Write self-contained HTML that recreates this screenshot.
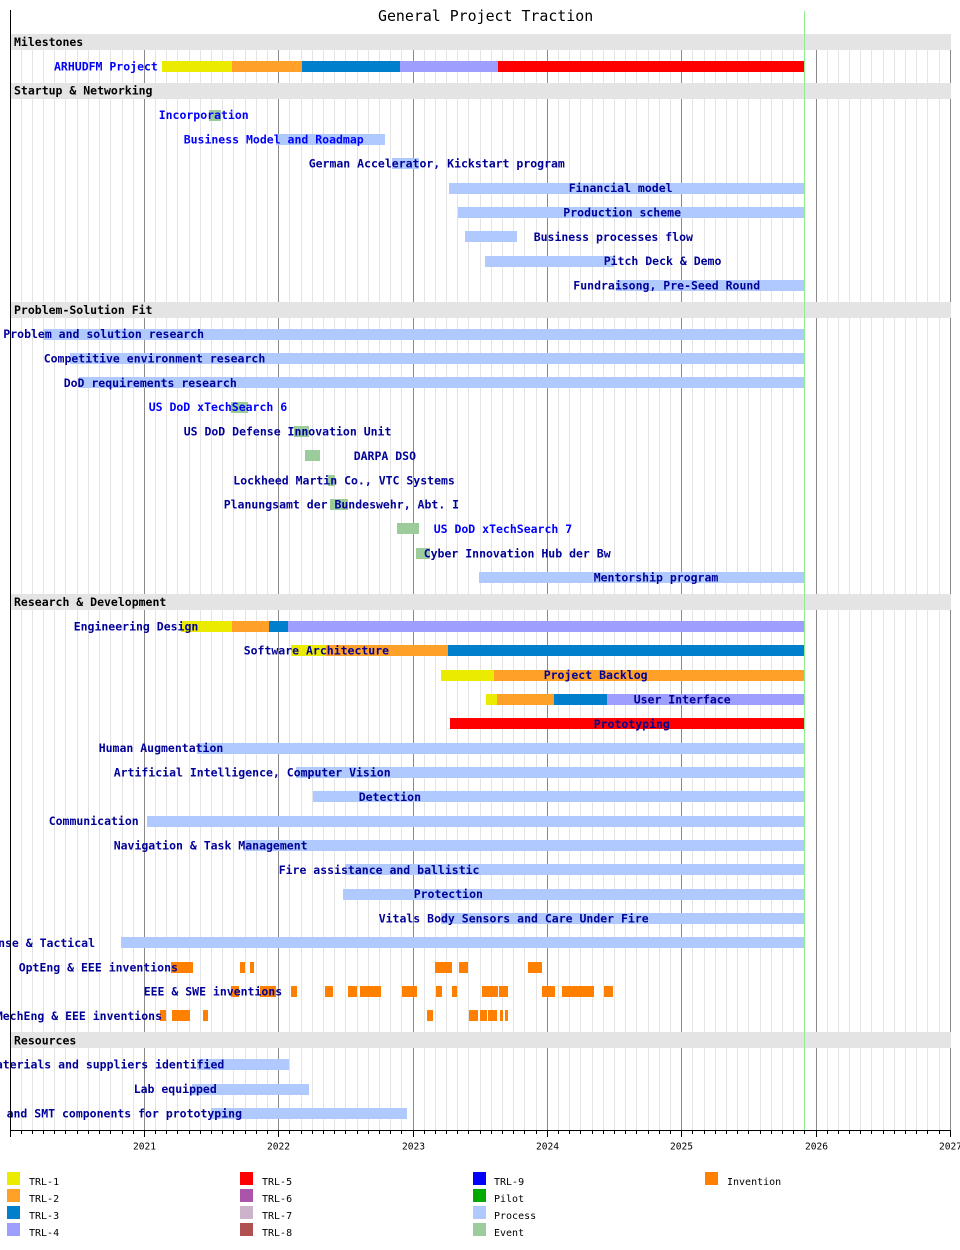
<!DOCTYPE html>
<html><head><meta charset="utf-8"><title>General Project Traction</title>
<style>
html,body{margin:0;padding:0;background:#fff;}
svg{display:block;}
.t{font-family:"DejaVu Sans Mono","Liberation Mono",monospace;font-weight:bold;font-size:11.5px;}
.b{fill:#0000ff;}
.n{fill:#000099;}
.h{fill:#000;}
.lg{font-family:"DejaVu Sans Mono","Liberation Mono",monospace;font-size:10px;fill:#000;}
.yr{font-family:"DejaVu Sans Mono","Liberation Mono",monospace;font-size:9.6px;fill:#000;}
</style></head>
<body>
<svg xmlns="http://www.w3.org/2000/svg" width="960" height="1250" viewBox="0 0 960 1250">
<rect x="0" y="0" width="960" height="1250" fill="#fff"/>
<!-- minor month grid -->
<path stroke="#e3e3e3" stroke-width="1" fill="none" d="M21.5 50V1130M32.5 50V1130M43.5 50V1130M54.5 50V1130M65.5 50V1130M77.5 50V1130M88.5 50V1130M99.5 50V1130M110.5 50V1130M122.5 50V1130M133.5 50V1130M155.5 50V1130M166.5 50V1130M177.5 50V1130M189.5 50V1130M200.5 50V1130M211.5 50V1130M222.5 50V1130M233.5 50V1130M245.5 50V1130M256.5 50V1130M267.5 50V1130M289.5 50V1130M301.5 50V1130M312.5 50V1130M323.5 50V1130M334.5 50V1130M345.5 50V1130M357.5 50V1130M368.5 50V1130M379.5 50V1130M390.5 50V1130M401.5 50V1130M424.5 50V1130M435.5 50V1130M446.5 50V1130M457.5 50V1130M468.5 50V1130M480.5 50V1130M491.5 50V1130M502.5 50V1130M513.5 50V1130M524.5 50V1130M536.5 50V1130M558.5 50V1130M569.5 50V1130M580.5 50V1130M592.5 50V1130M603.5 50V1130M614.5 50V1130M625.5 50V1130M636.5 50V1130M648.5 50V1130M659.5 50V1130M670.5 50V1130M692.5 50V1130M704.5 50V1130M715.5 50V1130M726.5 50V1130M737.5 50V1130M748.5 50V1130M760.5 50V1130M771.5 50V1130M782.5 50V1130M793.5 50V1130M804.5 50V1130M827.5 50V1130M838.5 50V1130M849.5 50V1130M860.5 50V1130M871.5 50V1130M883.5 50V1130M894.5 50V1130M905.5 50V1130M916.5 50V1130M927.5 50V1130M939.5 50V1130"/>
<!-- year lines -->
<path stroke="#8a8a8a" stroke-width="1" fill="none" d="M144.5 50V1130M278.5 50V1130M413.5 50V1130M547.5 50V1130M681.5 50V1130M816.5 50V1130M950.5 50V1130"/>

<!-- header bands -->
<g fill="#e4e4e4">
<rect x="11" y="34" width="940" height="16"/>
<rect x="11" y="83" width="940" height="16"/>
<rect x="11" y="302" width="940" height="16"/>
<rect x="11" y="594" width="940" height="16"/>
<rect x="11" y="1032" width="940" height="16"/>
</g>
<g class="t h">
<text x="14" y="46">Milestones</text>
<text x="14" y="94.6">Startup &amp; Networking</text>
<text x="14" y="313.8">Problem-Solution Fit</text>
<text x="14" y="606">Research &amp; Development</text>
<text x="14" y="1044.3">Resources</text>
</g>

<!-- bars -->
<!-- ARHUDFM Project -->
<rect x="162" y="61" width="70" height="11" fill="#ebeb00"/>
<rect x="232" y="61" width="70" height="11" fill="#ffa028"/>
<rect x="302" y="61" width="98" height="11" fill="#0080cc"/>
<rect x="400" y="61" width="98" height="11" fill="#9e9eff"/>
<rect x="498" y="61" width="306" height="11" fill="#ff0000"/>

<g fill="#9ccb9c">
<rect x="209" y="110" width="12" height="11"/>
<rect x="231" y="402" width="17" height="11"/>
<rect x="294" y="426" width="15" height="11"/>
<rect x="305" y="450" width="15" height="11"/>
<rect x="328" y="475" width="7" height="11"/>
<rect x="330" y="499" width="18" height="11"/>
<rect x="397" y="523" width="22" height="11"/>
<rect x="416" y="548" width="14" height="11"/>
</g>

<g fill="#b0caff">
<rect x="276" y="134" width="109" height="11"/>
<rect x="392" y="158" width="27" height="11"/>
<rect x="449" y="183" width="355" height="11"/>
<rect x="458" y="207" width="346" height="11"/>
<rect x="465" y="231" width="52" height="11"/>
<rect x="485" y="256" width="129" height="11"/>
<rect x="616" y="280" width="188" height="11"/>
<rect x="43" y="329" width="761" height="11"/>
<rect x="70" y="353" width="734" height="11"/>
<rect x="79" y="377" width="725" height="11"/>
<rect x="479" y="572" width="325" height="11"/>
<rect x="197" y="743" width="607" height="11"/>
<rect x="296" y="767" width="508" height="11"/>
<rect x="313" y="791" width="491" height="11"/>
<rect x="147" y="816" width="657" height="11"/>
<rect x="244" y="840" width="560" height="11"/>
<rect x="345" y="864" width="459" height="11"/>
<rect x="343" y="889" width="461" height="11"/>
<rect x="441" y="913" width="363" height="11"/>
<rect x="121" y="937" width="683" height="11"/>
<rect x="197" y="1059" width="92" height="11"/>
<rect x="192" y="1084" width="117" height="11"/>
<rect x="211" y="1108" width="196" height="11"/>
</g>

<!-- Engineering Design -->
<rect x="181" y="621" width="51" height="11" fill="#ebeb00"/>
<rect x="232" y="621" width="37" height="11" fill="#ffa028"/>
<rect x="269" y="621" width="19" height="11" fill="#0080cc"/>
<rect x="288" y="621" width="516" height="11" fill="#9e9eff"/>
<!-- Software Architecture -->
<rect x="291" y="645" width="35" height="11" fill="#ebeb00"/>
<rect x="326" y="645" width="122" height="11" fill="#ffa028"/>
<rect x="448" y="645" width="356" height="11" fill="#0080cc"/>
<!-- Project Backlog -->
<rect x="441" y="670" width="53" height="11" fill="#ebeb00"/>
<rect x="494" y="670" width="310" height="11" fill="#ffa028"/>
<!-- User Interface -->
<rect x="486" y="694" width="11" height="11" fill="#ebeb00"/>
<rect x="497" y="694" width="57" height="11" fill="#ffa028"/>
<rect x="554" y="694" width="53" height="11" fill="#0080cc"/>
<rect x="607" y="694" width="197" height="11" fill="#9e9eff"/>
<!-- Prototyping -->
<rect x="450" y="718" width="354" height="11" fill="#ff0000"/>

<!-- inventions -->
<g fill="#ff8000">
<rect x="171" y="962" width="22" height="11"/>
<rect x="240" y="962" width="5" height="11"/>
<rect x="250" y="962" width="4" height="11"/>
<rect x="435" y="962" width="17" height="11"/>
<rect x="459" y="962" width="9" height="11"/>
<rect x="528" y="962" width="14" height="11"/>

<rect x="231" y="986" width="8" height="11"/>
<rect x="260" y="986" width="16" height="11"/>
<rect x="291" y="986" width="6" height="11"/>
<rect x="325" y="986" width="8" height="11"/>
<rect x="348" y="986" width="9" height="11"/>
<rect x="360" y="986" width="21" height="11"/>
<rect x="402" y="986" width="15" height="11"/>
<rect x="436" y="986" width="6" height="11"/>
<rect x="452" y="986" width="5" height="11"/>
<rect x="482" y="986" width="16" height="11"/>
<rect x="499" y="986" width="9" height="11"/>
<rect x="542" y="986" width="13" height="11"/>
<rect x="562" y="986" width="32" height="11"/>
<rect x="604" y="986" width="9" height="11"/>

<rect x="160" y="1010" width="6" height="11"/>
<rect x="172" y="1010" width="18" height="11"/>
<rect x="203" y="1010" width="5" height="11"/>
<rect x="427" y="1010" width="6" height="11"/>
<rect x="469" y="1010" width="9" height="11"/>
<rect x="480" y="1010" width="7" height="11"/>
<rect x="488" y="1010" width="9" height="11"/>
<rect x="500" y="1010" width="3" height="11"/>
<rect x="505" y="1010" width="3" height="11"/>
</g>

<!-- labels -->
<g class="t">
<text class="b" x="54" y="70.3">ARHUDFM Project</text>
<text class="b" x="158.7" y="119">Incorporation</text>
<text class="b" x="183.7" y="143.4">Business Model and Roadmap</text>
<text class="n" x="308.7" y="167.7">German Accelerator, Kickstart program</text>
<text class="n" x="568.7" y="192">Financial model</text>
<text class="n" x="563.3" y="216.4">Production scheme</text>
<text class="n" x="533.7" y="240.8">Business processes flow</text>
<text class="n" x="603.7" y="265.1">Pitch Deck &amp; Demo</text>
<text class="n" x="573.3" y="289.5">Fundraisong, Pre-Seed Round</text>
<text class="n" x="3.3" y="338.2">Problem and solution research</text>
<text class="n" x="43.7" y="362.5">Competitive environment research</text>
<text class="n" x="63.7" y="386.9">DoD requirements research</text>
<text class="b" x="148.7" y="411.2">US DoD xTechSearch 6</text>
<text class="n" x="183.7" y="435.6">US DoD Defense Innovation Unit</text>
<text class="n" x="353.7" y="459.9">DARPA DSO</text>
<text class="n" x="233.3" y="484.3">Lockheed Martin Co., VTC Systems</text>
<text class="n" x="223.7" y="508.6">Planungsamt der Bundeswehr, Abt. I</text>
<text class="b" x="433.7" y="533">US DoD xTechSearch 7</text>
<text class="n" x="423.7" y="557.3">Cyber Innovation Hub der Bw</text>
<text class="n" x="593.7" y="581.7">Mentorship program</text>
<text class="n" x="73.7" y="630.4">Engineering Design</text>
<text class="n" x="243.7" y="654.7">Software Architecture</text>
<text class="n" x="543.7" y="679.1">Project Backlog</text>
<text class="n" x="633.7" y="703.4">User Interface</text>
<text class="n" x="593.7" y="727.8">Prototyping</text>
<text class="n" x="98.7" y="752.1">Human Augmentation</text>
<text class="n" x="113.7" y="776.5">Artificial Intelligence, Computer Vision</text>
<text class="n" x="358.7" y="800.8">Detection</text>
<text class="n" x="48.7" y="825.2">Communication</text>
<text class="n" x="113.7" y="849.5">Navigation &amp; Task Management</text>
<text class="n" x="278.7" y="873.9">Fire assistance and ballistic</text>
<text class="n" x="413.7" y="898.2">Protection</text>
<text class="n" x="378.7" y="922.6">Vitals Body Sensors and Care Under Fire</text>
<text class="n" x="95" y="946.9" text-anchor="end">Defense &amp; Tactical</text>
<text class="n" x="18.7" y="971.3">OptEng &amp; EEE inventions</text>
<text class="n" x="143.7" y="995.6">EEE &amp; SWE inventions</text>
<text class="n" x="162" y="1020" text-anchor="end">MechEng &amp; EEE inventions</text>
<text class="n" x="224.3" y="1068.7" text-anchor="end">Materials and suppliers identified</text>
<text class="n" x="133.7" y="1093">Lab equipped</text>
<text class="n" x="242" y="1117.4" text-anchor="end">PCB and SMT components for prototyping</text>
</g>

<!-- axes -->
<path stroke="#000" stroke-width="1" fill="none" d="M10.5 10V1131M10 1130.5H951"/>
<path stroke="#000" stroke-width="1" fill="none" d="M10.5 1130V1137M21.5 1130V1134M32.5 1130V1134M43.5 1130V1134M54.5 1130V1134M65.5 1130V1134M77.5 1130V1134M88.5 1130V1134M99.5 1130V1134M110.5 1130V1134M122.5 1130V1134M133.5 1130V1134M144.5 1130V1137M155.5 1130V1134M166.5 1130V1134M177.5 1130V1134M189.5 1130V1134M200.5 1130V1134M211.5 1130V1134M222.5 1130V1134M233.5 1130V1134M245.5 1130V1134M256.5 1130V1134M267.5 1130V1134M278.5 1130V1137M289.5 1130V1134M301.5 1130V1134M312.5 1130V1134M323.5 1130V1134M334.5 1130V1134M345.5 1130V1134M357.5 1130V1134M368.5 1130V1134M379.5 1130V1134M390.5 1130V1134M401.5 1130V1134M413.5 1130V1137M424.5 1130V1134M435.5 1130V1134M446.5 1130V1134M457.5 1130V1134M468.5 1130V1134M480.5 1130V1134M491.5 1130V1134M502.5 1130V1134M513.5 1130V1134M524.5 1130V1134M536.5 1130V1134M547.5 1130V1137M558.5 1130V1134M569.5 1130V1134M580.5 1130V1134M592.5 1130V1134M603.5 1130V1134M614.5 1130V1134M625.5 1130V1134M636.5 1130V1134M648.5 1130V1134M659.5 1130V1134M670.5 1130V1134M681.5 1130V1137M692.5 1130V1134M704.5 1130V1134M715.5 1130V1134M726.5 1130V1134M737.5 1130V1134M748.5 1130V1134M760.5 1130V1134M771.5 1130V1134M782.5 1130V1134M793.5 1130V1134M804.5 1130V1134M816.5 1130V1137M827.5 1130V1134M838.5 1130V1134M849.5 1130V1134M860.5 1130V1134M871.5 1130V1134M883.5 1130V1134M894.5 1130V1134M905.5 1130V1134M916.5 1130V1134M927.5 1130V1134M939.5 1130V1134M950.5 1130V1137"/>

<!-- today line -->
<path stroke="#90ee90" stroke-width="1" fill="none" d="M804.5 11V1130"/>

<!-- year labels -->
<g class="yr" text-anchor="middle">
<text x="144.5" y="1149.5">2021</text>
<text x="278.5" y="1149.5">2022</text>
<text x="413.5" y="1149.5">2023</text>
<text x="547.5" y="1149.5">2024</text>
<text x="681.5" y="1149.5">2025</text>
<text x="816.5" y="1149.5">2026</text>
<text x="950.5" y="1149.5">2027</text>
</g>

<!-- title -->
<text x="378" y="21" style="font-family:'DejaVu Sans Mono','Liberation Mono',monospace;font-size:14.9px;fill:#000;">General Project Traction</text>

<!-- legend -->
<rect x="7" y="1172" width="13" height="13" fill="#ebeb00"/>
<rect x="7" y="1189" width="13" height="13" fill="#ffa028"/>
<rect x="7" y="1206" width="13" height="13" fill="#0080cc"/>
<rect x="7" y="1223" width="13" height="13" fill="#9e9eff"/>
<rect x="240" y="1172" width="13" height="13" fill="#ff0000"/>
<rect x="240" y="1189" width="13" height="13" fill="#aa55aa"/>
<rect x="240" y="1206" width="13" height="13" fill="#ccb3cc"/>
<rect x="240" y="1223" width="13" height="13" fill="#b05050"/>
<rect x="473" y="1172" width="13" height="13" fill="#0000ff"/>
<rect x="473" y="1189" width="13" height="13" fill="#00aa00"/>
<rect x="473" y="1206" width="13" height="13" fill="#b0caff"/>
<rect x="473" y="1223" width="13" height="13" fill="#9ccb9c"/>
<rect x="705" y="1172" width="13" height="13" fill="#ff8000"/>
<g class="lg">
<text x="29" y="1185">TRL-1</text>
<text x="29" y="1202">TRL-2</text>
<text x="29" y="1219">TRL-3</text>
<text x="29" y="1236">TRL-4</text>
<text x="262" y="1185">TRL-5</text>
<text x="262" y="1202">TRL-6</text>
<text x="262" y="1219">TRL-7</text>
<text x="262" y="1236">TRL-8</text>
<text x="494" y="1185">TRL-9</text>
<text x="494" y="1202">Pilot</text>
<text x="494" y="1219">Process</text>
<text x="494" y="1236">Event</text>
<text x="727" y="1185">Invention</text>
</g>
</svg>
</body></html>
